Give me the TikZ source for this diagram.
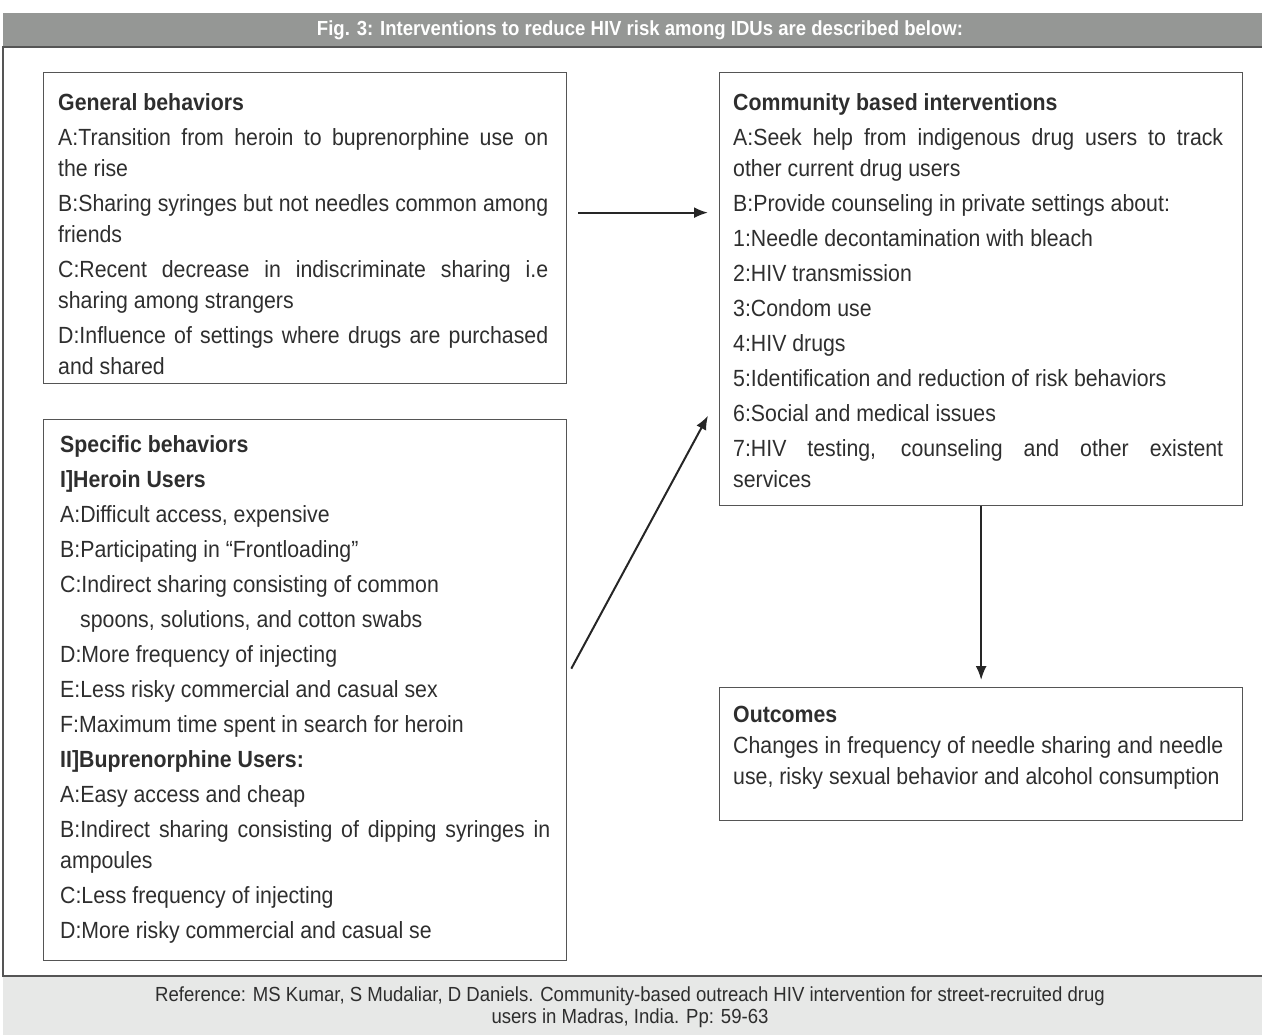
\documentclass[tikz,border=0pt]{standalone}
\usepackage{fontspec}
\setmainfont[FakeStretch=0.91]{Liberation Sans}
\usetikzlibrary{positioning,arrows.meta}

\definecolor{barGray}{HTML}{959795}
\definecolor{footGray}{HTML}{E7E8E7}
\definecolor{inkGray}{HTML}{2E2E2E}
\definecolor{lineGray}{HTML}{555555}

\tikzset{
  box/.style={draw=lineGray, line width=1.3pt, minimum width=523pt, inner sep=0pt, anchor=north west},
  boxtext/.style={inner sep=0pt, text width=490pt, align=justify, text=inkGray,
    font=\fontsize{23.4}{31}\selectfont,
    execute at begin node={\setlength\parskip{4pt}\setlength\parindent{0pt}}},
  flow/.style={draw=black!85, line width=2pt, -{Latex[length=14pt,width=11pt]}},
}

\begin{document}
\begin{tikzpicture}[x=1pt,y=-1pt]
\useasboundingbox (0,0) rectangle (1262,1035);

% title bar, frame and footer
\fill[barGray] (3,13) rectangle (1262,47);
\node[font=\bfseries\fontsize{20.4}{22}\selectfont, text=white] (title) at (640,30)
  {Fig. 3: Interventions to reduce HIV risk among IDUs are described below:};
\fill[footGray] (3,977) rectangle (1262,1035);
\draw[lineGray, line width=1.6pt] (1262,47) -- (3,47) -- (3,976) -- (1262,976);
\node[align=center, text=inkGray, font=\fontsize{20.4}{22}\selectfont] (ref) at (630,1007)
  {Reference: MS Kumar, S Mudaliar, D Daniels. Community-based outreach HIV intervention for street-recruited drug\\
   users in Madras, India. Pp: 59-63};

% boxes
\node[box, minimum height=311pt] (gen) at (43,72) {};
\node[box, minimum height=541pt] (spec) at (43,419) {};
\node[box, minimum height=433pt] (com) at (719,72) {};
\node[box, minimum height=133pt] (out) at (719,687) {};

% box texts
\node[boxtext, below right=21pt and 15pt of gen.north west] (gentext) {%
  \textbf{General behaviors}\par
  A:Transition from heroin to buprenorphine use on\linebreak the rise\par
  B:Sharing syringes but not needles common among\linebreak friends\par
  C:Recent decrease in indiscriminate sharing i.e\linebreak sharing among strangers\par
  D:Influence of settings where drugs are purchased\linebreak and shared\par};

\node[boxtext, below right=16pt and 17pt of spec.north west] (spectext) {%
  \textbf{Specific behaviors}\par
  \textbf{I]Heroin Users}\par
  A:Difficult access, expensive\par
  B:Participating in “Frontloading”\par
  C:Indirect sharing consisting of common\par
  \hspace*{20pt}spoons, solutions, and cotton swabs\par
  D:More frequency of injecting\par
  E:Less risky commercial and casual sex\par
  F:Maximum time spent in search for heroin\par
  \textbf{II]Buprenorphine Users:}\par
  A:Easy access and cheap\par
  B:Indirect sharing consisting of dipping syringes in\linebreak ampoules\par
  C:Less frequency of injecting\par
  D:More risky commercial and casual se\par};

\node[boxtext, below right=21pt and 14pt of com.north west] (comtext) {%
  \textbf{Community based interventions}\par
  A:Seek help from indigenous drug users to track\linebreak other current drug users\par
  B:Provide counseling in private settings about:\par
  1:Needle decontamination with bleach\par
  2:HIV transmission\par
  3:Condom use\par
  4:HIV drugs\par
  5:Identification and reduction of risk behaviors\par
  6:Social and medical issues\par
  7:HIV testing, counseling and other existent\linebreak services\par};

\node[boxtext, below right=19pt and 14pt of out.north west,
  execute at begin node={\setlength\parskip{0pt}}] (outtext) {%
  \textbf{Outcomes}\par
  Changes in frequency of needle sharing and needle\linebreak use, risky sexual behavior and alcohol consumption\par};

% connectors
\coordinate (genout) at ([yshift=15.5pt]gen.east);
\coordinate (specout) at ([xshift=4pt,yshift=21.5pt]spec.east);
\coordinate (comin) at ([xshift=-11pt,yshift=-126.5pt]com.west);
\draw[flow, shorten <=11pt, shorten >=11pt] (genout) -- (genout -| com.west);
\draw[flow] (specout) -- (comin);
\draw[flow, shorten >=7pt] (com.south) -- (out.north);
\end{tikzpicture}
\end{document}
